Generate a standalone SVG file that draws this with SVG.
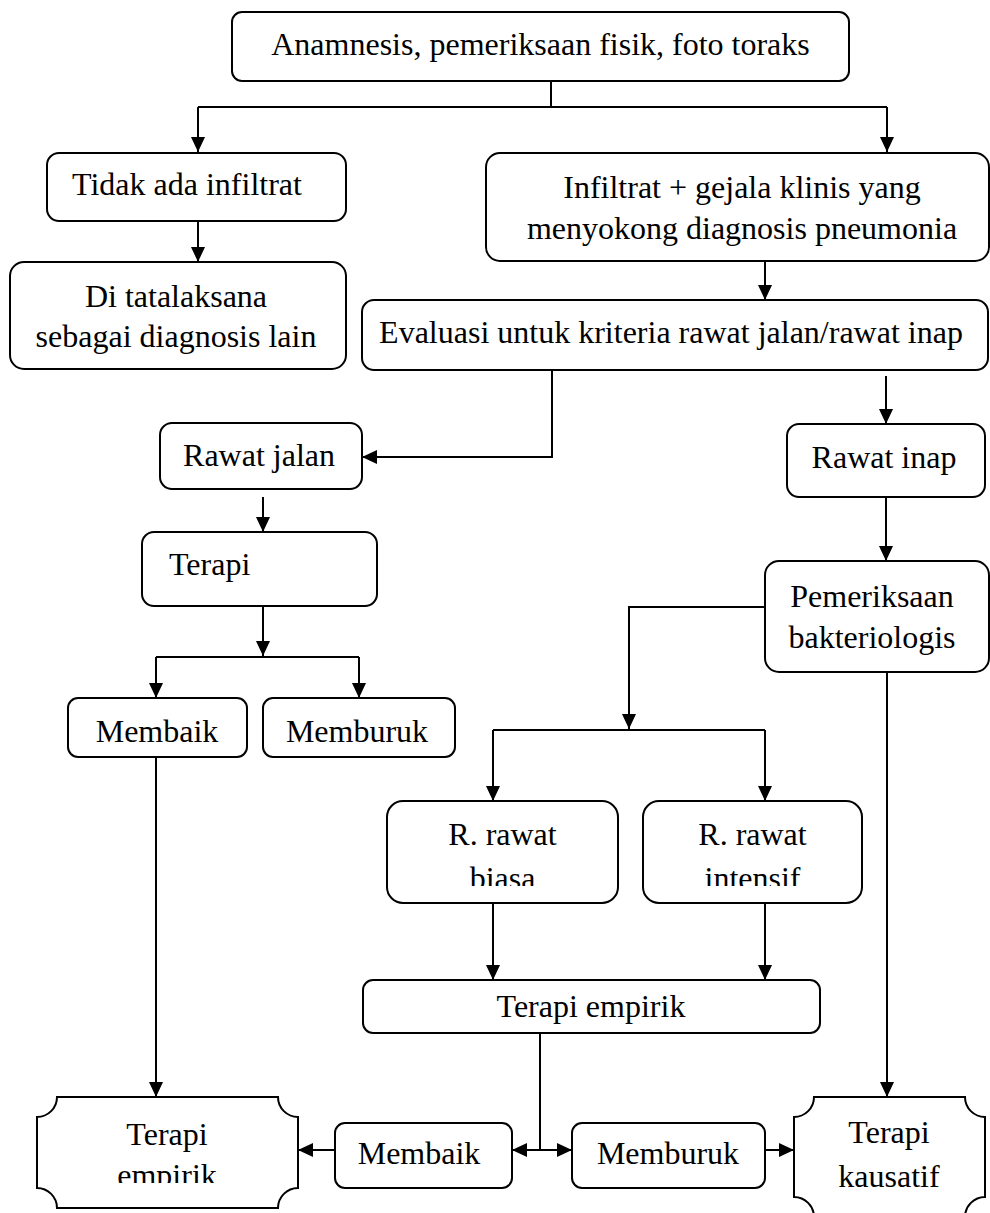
<svg xmlns="http://www.w3.org/2000/svg" width="990" height="1213" viewBox="0 0 990 1213">
<style>
.b{fill:#fff;stroke:#000;stroke-width:2}
.t{font-family:"Liberation Serif","Times New Roman",serif;font-size:32px;fill:#000;text-anchor:middle}
.c{fill:none;stroke:#000;stroke-width:2}
.a{marker-end:url(#ah)}
</style>
<defs>
<marker id="ah" markerUnits="userSpaceOnUse" markerWidth="15" markerHeight="14" refX="15" refY="7" orient="auto"><path d="M0,0L15,7L0,14z" fill="#000"/></marker>
<clipPath id="cb"><rect x="380" y="795" width="500" height="91"/></clipPath>
<clipPath id="ce"><rect x="30" y="1090" width="280" height="93"/></clipPath>
</defs>
<rect width="990" height="1213" fill="#fff"/>
<g id="connectors">
<path class="c" d="M551,81V107M198,107H887"/>
<path class="c a" d="M198,107V152"/>
<path class="c a" d="M887,107V152"/>
<path class="c a" d="M198,221V262"/>
<path class="c a" d="M765,261V300"/>
<path class="c a" d="M552,370V457H362"/>
<path class="c a" d="M886,376V424"/>
<path class="c a" d="M263,497V532"/>
<path class="c a" d="M886,497V561"/>
<path class="c a" d="M263,606V656"/>
<path class="c" d="M156,657H359"/>
<path class="c a" d="M156,657V698"/>
<path class="c a" d="M359,657V698"/>
<path class="c a" d="M765,607H629V729"/>
<path class="c" d="M493,730H765"/>
<path class="c a" d="M493,730V801"/>
<path class="c a" d="M765,730V801"/>
<path class="c a" d="M887,672V1097"/>
<path class="c a" d="M156,757V1097"/>
<path class="c a" d="M493,903V980"/>
<path class="c a" d="M765,903V980"/>
<path class="c" d="M540,1033V1150"/>
<path class="c a" d="M540,1150H512"/>
<path class="c a" d="M540,1150H572"/>
<path class="c a" d="M335,1150H298"/>
<path class="c a" d="M765,1150H794"/>
</g>
<g id="n1"><rect class="b" x="232" y="12" width="617" height="69" rx="10"/><text class="t" x="540.5" y="55">Anamnesis, pemeriksaan fisik, foto toraks</text></g>
<g id="n2"><rect class="b" x="47" y="153" width="299" height="68" rx="12"/><text class="t" x="187" y="195">Tidak ada infiltrat</text></g>
<g id="n3"><rect class="b" x="10" y="262" width="336" height="107" rx="14"/><text class="t" x="176" y="307">Di tatalaksana</text><text class="t" x="176" y="347">sebagai diagnosis lain</text></g>
<g id="n4"><rect class="b" x="486" y="153" width="503" height="108" rx="14"/><text class="t" x="742" y="198">Infiltrat + gejala klinis yang</text><text class="t" x="742" y="239">menyokong diagnosis pneumonia</text></g>
<g id="n5"><rect class="b" x="362" y="300" width="626" height="70" rx="12"/><text class="t" x="671" y="343">Evaluasi untuk kriteria rawat jalan/rawat inap</text></g>
<g id="n6"><rect class="b" x="160" y="423" width="202" height="66" rx="12"/><text class="t" x="259" y="466">Rawat jalan</text></g>
<g id="n7"><rect class="b" x="787" y="424" width="198" height="73" rx="12"/><text class="t" x="884" y="468">Rawat inap</text></g>
<g id="n8"><rect class="b" x="142" y="532" width="235" height="74" rx="12"/><text class="t" x="169" y="575" style="text-anchor:start">Terapi</text></g>
<g id="n9"><rect class="b" x="765" y="561" width="224" height="111" rx="14"/><text class="t" x="872" y="607">Pemeriksaan</text><text class="t" x="872" y="648">bakteriologis</text></g>
<g id="n10"><rect class="b" x="68" y="698" width="179" height="59" rx="10"/><text class="t" x="157" y="742">Membaik</text></g>
<g id="n11"><rect class="b" x="263" y="698" width="192" height="59" rx="10"/><text class="t" x="357" y="742">Memburuk</text></g>
<g id="n12"><rect class="b" x="387" y="801" width="231" height="102" rx="16"/><text class="t" x="502.5" y="845">R. rawat</text><text class="t" x="502.5" y="889" clip-path="url(#cb)">biasa</text></g>
<g id="n13"><rect class="b" x="643" y="801" width="219" height="102" rx="16"/><text class="t" x="752.5" y="845">R. rawat</text><text class="t" x="752.5" y="889" clip-path="url(#cb)">intensif</text></g>
<g id="n14"><rect class="b" x="363" y="980" width="457" height="53" rx="10"/><text class="t" x="591" y="1017">Terapi empirik</text></g>
<g id="n15"><path class="b" d="M57,1097H278A20,20 0 0 0 298,1117V1188A20,20 0 0 0 278,1208H57A20,20 0 0 0 37,1188V1117A20,20 0 0 0 57,1097Z"/><text class="t" x="167" y="1145">Terapi</text><text class="t" x="167" y="1186" clip-path="url(#ce)">empirik</text></g>
<g id="n16"><rect class="b" x="335" y="1123" width="177" height="65" rx="10"/><text class="t" x="419" y="1164">Membaik</text></g>
<g id="n17"><rect class="b" x="572" y="1123" width="193" height="65" rx="10"/><text class="t" x="668" y="1164">Memburuk</text></g>
<g id="n18"><path class="b" d="M814,1097H965A20,20 0 0 0 985,1117V1197A20,20 0 0 0 965,1217H814A20,20 0 0 0 794,1197V1117A20,20 0 0 0 814,1097Z"/><text class="t" x="889" y="1143">Terapi</text><text class="t" x="889" y="1187">kausatif</text></g>
</svg>
